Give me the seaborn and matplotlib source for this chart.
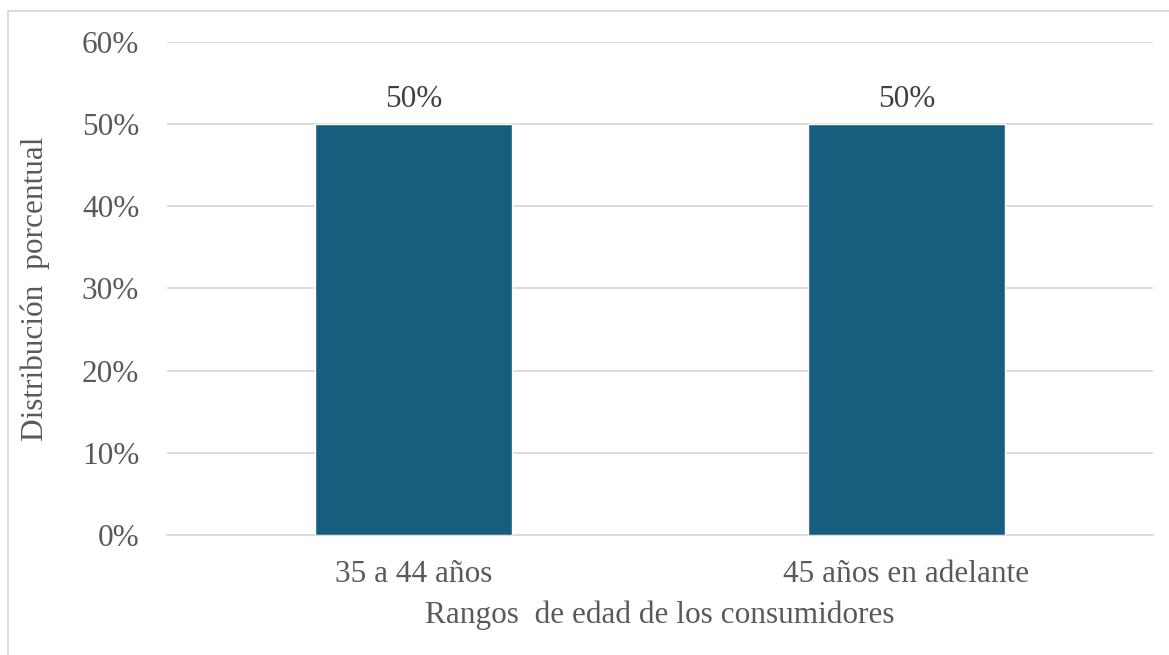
import matplotlib
matplotlib.use('Agg')
import matplotlib.pyplot as plt
import seaborn as sns
import pandas as pd
from matplotlib.lines import Line2D

# datos
categorias = ['35 a 44 años', '45 años en adelante']
valores = [0.50, 0.50]
etiquetas_y = ['0%', '10%', '20%', '30%', '40%', '50%', '60%']
ticks_y = [0, 0.1, 0.2, 0.3, 0.4, 0.5, 0.6]

df = pd.DataFrame({'rango': categorias, 'valor': valores})

sns.set_theme(style='white')
plt.rcParams['font.family'] = ['Liberation Serif', 'DejaVu Serif']
gris = '#595959'

fig = plt.figure(figsize=(11.69, 6.55), dpi=100)
ax = fig.add_axes([0.1429, 0.1832, 0.8434, 0.7527])

sns.barplot(data=df, x='rango', y='valor', color='#175E7E', width=0.4,
            saturation=1, ax=ax, zorder=3)

ax.set_ylim(0, 0.6)
ax.set_yticks(ticks_y)
ax.set_yticklabels(etiquetas_y)
ax.yaxis.grid(True, color='#d9d9d9', linewidth=1.3, zorder=0)
ax.set_axisbelow(True)
for s in ['top', 'right', 'left']:
    ax.spines[s].set_visible(False)
ax.spines['bottom'].set_color('#d9d9d9')
ax.spines['bottom'].set_linewidth(1.3)

ax.tick_params(axis='y', length=0, pad=20, labelsize=22.5, labelcolor=gris)
ax.tick_params(axis='x', length=0, pad=18, labelsize=22.5, labelcolor=gris)

for c in ax.containers:
    ax.bar_label(c, labels=[f'{v:.0%}' for v in valores], padding=7,
                 fontsize=22.5, color='#404040')

ax.set_xlabel('Rangos  de edad de los consumidores', fontsize=22.5, color=gris, labelpad=8)
ax.set_ylabel('Distribución  porcentual', fontsize=22.5, color=gris, labelpad=23)

# marco del gráfico
fig.add_artist(Line2D([8 / 1169, 8 / 1169], [0, 1 - 11 / 655], color='#d9d9d9', lw=1.3))
fig.add_artist(Line2D([8 / 1169, 1], [1 - 11 / 655, 1 - 11 / 655], color='#d9d9d9', lw=1.3))

fig.savefig('out.png', dpi=100)
